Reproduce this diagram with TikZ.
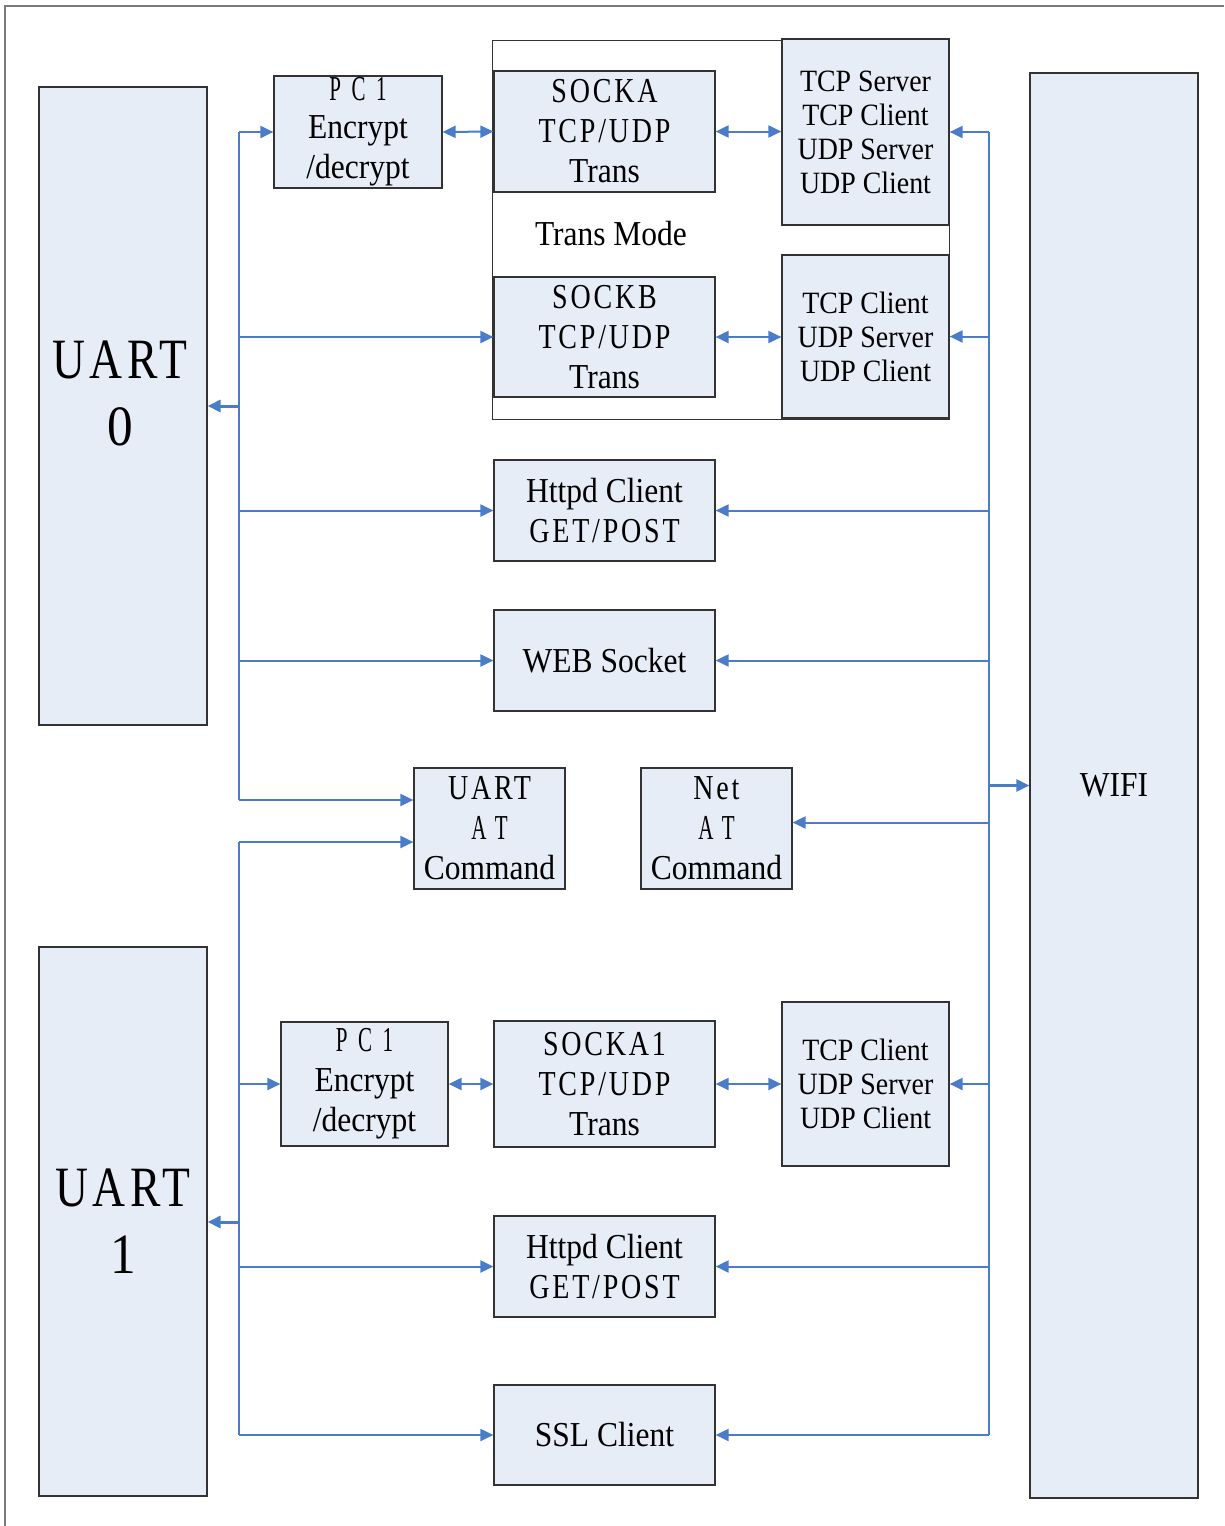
\documentclass[tikz,border=0pt]{standalone}
\usepackage{fontspec}
\setmainfont{Liberation Serif}[FakeStretch=0.9]
\newfontfamily\spcfont{Liberation Serif}[FakeStretch=0.8,LetterSpace=8]
\newfontfamily\widefont{Liberation Serif}[FakeStretch=0.6,LetterSpace=30]
\usetikzlibrary{arrows.meta}
\definecolor{boxfill}{HTML}{E7EDF7}
\definecolor{linkblue}{HTML}{4A7CC7}
\definecolor{framegray}{HTML}{7A7A7A}

\tikzset{
  blk/.style={draw=black!80,line width=1.2pt,fill=boxfill,align=center,inner sep=0pt,font=\fontsize{35}{40}\selectfont},
  modebox/.style={blk,font=\fontsize{31}{34}\selectfont},
  bigbox/.style={blk,font=\fontsize{57}{67}\selectfont},
  bus/.style={draw=linkblue,line width=2pt},
  conn/.style={bus,-{Triangle[length=13pt,width=12pt]}},
  dconn/.style={bus,{Triangle[length=13pt,width=12pt]}-{Triangle[length=13pt,width=12pt]}},
  thickconn/.style={conn,line width=3pt},
}

\begin{document}
\begin{tikzpicture}[x=1pt,y=-1pt]
  \useasboundingbox (0,0) rectangle (1224,1526);
  % outer frame
  \draw[framegray,line width=1.5pt] (5,1526) |- (1224,6);

  % trans mode group
  \node[draw=black!80,line width=1pt,minimum width=457,minimum height=379] (transbox) at (720.5,229.5) {};
  \node[font=\fontsize{35}{40}\selectfont] (transtxt) at (611,234) {Trans Mode};

  % uarts and wifi
  \node[bigbox,minimum width=168,minimum height=638] (uart0) at (123,406) {};
  \node[font=\fontsize{57}{67}\selectfont,align=center] (uart0txt) at (120,393) {{\spcfont UART}\\0};
  \node[bigbox,minimum width=168,minimum height=549] (uart1) at (123,1221.5) {{\spcfont UART}\\1};
  \node[blk,minimum width=168,minimum height=1425] (wifi) at (1114,785.5) {WIFI};

  % upper blocks
  \node[blk,minimum width=168,minimum height=112] (pc1a) at (358,132) {{\widefont PC1}\\[-2pt]Encrypt\\/decrypt};
  \node[blk,minimum width=221,minimum height=121] (socka) at (604.5,131.5) {{\spcfont SOCKA}\\{\spcfont TCP/UDP}\\Trans};
  \node[modebox,minimum width=167,minimum height=186] (tcpa) at (865.5,132) {TCP Server\\TCP Client\\UDP Server\\UDP Client};
  \node[blk,minimum width=221,minimum height=120] (sockb) at (604.5,337) {{\spcfont SOCKB}\\{\spcfont TCP/UDP}\\Trans};
  \node[modebox,minimum width=167,minimum height=163] (tcpb) at (865.5,336.5) {TCP Client\\UDP Server\\UDP Client};
  \node[blk,minimum width=221,minimum height=101] (http0) at (604.5,510.5) {Httpd Client\\{\spcfont GET/POST}};
  \node[blk,minimum width=221,minimum height=101] (web) at (604.5,660.5) {WEB Socket};
  \node[blk,minimum width=151,minimum height=121] (uartat) at (489.5,828.5) {{\spcfont UART}\\{\widefont AT}\\Command};
  \node[blk,minimum width=151,minimum height=121] (netat) at (716.5,828.5) {{\spcfont Net}\\{\widefont AT}\\Command};

  % lower blocks
  \node[blk,minimum width=167,minimum height=124] (pc1b) at (364.5,1084) {{\widefont PC1}\\Encrypt\\/decrypt};
  \node[blk,minimum width=221,minimum height=126] (socka1) at (604.5,1084) {{\spcfont SOCKA1}\\{\spcfont TCP/UDP}\\Trans};
  \node[modebox,minimum width=167,minimum height=164] (tcpc) at (865.5,1084) {TCP Client\\UDP Server\\UDP Client};
  \node[blk,minimum width=221,minimum height=101] (http1) at (604.5,1266.5) {Httpd Client\\{\spcfont GET/POST}};
  \node[blk,minimum width=221,minimum height=100] (ssl) at (604.5,1435) {SSL Client};

  % left bus, uart0
  \coordinate (l0a) at (239,132);
  \coordinate (l0b) at (239,800);
  \coordinate (l0m) at (239,406);
  \draw[bus] (l0a) -- (l0b);
  \draw[conn] (l0a) -- (pc1a.west);
  \foreach \n in {sockb,http0,web}
    \draw[conn] (\n.west -| l0a) -- (\n.west);
  \draw[conn] (l0b) -- (l0b -| uartat.west);
  \draw[thickconn] (l0m) -- (l0m -| uart0.east);

  % left bus, uart1
  \coordinate (l1a) at (239,842);
  \coordinate (l1b) at (239,1435);
  \coordinate (l1m) at (239,1222);
  \draw[bus] (l1a) -- (l1b);
  \draw[conn] (l1a) -- (l1a -| uartat.west);
  \foreach \n in {pc1b,http1,ssl}
    \draw[conn] (\n.west -| l1a) -- (\n.west);
  \draw[thickconn] (l1m) -- (l1m -| uart1.east);

  % right bus, wifi
  \coordinate (ra) at (989,132);
  \coordinate (rb) at (989,1435);
  \coordinate (rw) at (989,785.5);
  \draw[bus] (ra) -- (rb);
  \foreach \n in {tcpa,tcpb,http0,web,tcpc,http1,ssl}
    \draw[conn] (\n.east -| ra) -- (\n.east);
  \draw[conn] ([yshift=6pt]netat.east -| ra) -- ([yshift=6pt]netat.east);
  \draw[thickconn,line width=2.4pt] (rw) -- (wifi.west);

  % two-way links
  \draw[dconn] (pc1a.east) -- (socka.west);
  \draw[dconn] (socka.east) -- (tcpa.west |- socka.east);
  \draw[dconn] (sockb.east) -- (tcpb.west |- sockb.east);
  \draw[dconn] (pc1b.east) -- (socka1.west);
  \draw[dconn] (socka1.east) -- (tcpc.west);
\end{tikzpicture}
\end{document}
